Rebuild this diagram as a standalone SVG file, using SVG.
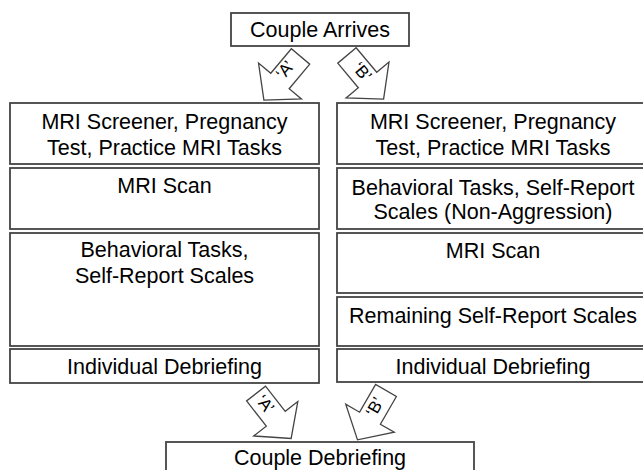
<svg xmlns="http://www.w3.org/2000/svg" width="643" height="470" viewBox="0 0 643 470">
<defs>
<style>
.box{fill:#fff;stroke:#444;stroke-width:1.8}
.t{font-family:"Liberation Sans",Arial,sans-serif;font-size:21.5px;fill:#000;text-anchor:middle}
.arr{fill:#fff;stroke:#444;stroke-width:1.3;stroke-linejoin:miter}
.at{font-family:"Liberation Sans",Arial,sans-serif;font-size:17px;fill:#000;text-anchor:middle;dominant-baseline:central}
</style>
<polygon id="blk" points="-29,-12 3,-12 3,-28 28,0 3,28 3,12 -29,12"/>
</defs>
<rect width="643" height="470" fill="#fff"/>
<g id="arrives"><rect class="box" x="231" y="13" width="178" height="33"/><text class="t" x="320" y="36.5">Couple Arrives</text></g>
<g id="l1"><rect class="box" x="10" y="103" width="309" height="61"/><text class="t" x="164.5" y="128.5">MRI Screener, Pregnancy</text><text class="t" x="164.5" y="154.5">Test, Practice MRI Tasks</text></g>
<g id="l2"><rect class="box" x="10" y="168" width="309" height="61"/><text class="t" x="164.5" y="193">MRI Scan</text></g>
<g id="l3"><rect class="box" x="10" y="233" width="309" height="113"/><text class="t" x="164.5" y="257">Behavioral Tasks,</text><text class="t" x="164.5" y="283">Self-Report Scales</text></g>
<g id="l4"><rect class="box" x="10" y="349" width="309" height="34"/><text class="t" x="164.5" y="374">Individual Debriefing</text></g>
<g id="r1"><rect class="box" x="337" y="103" width="320" height="61"/><text class="t" x="493" y="128.5">MRI Screener, Pregnancy</text><text class="t" x="493" y="154.5">Test, Practice MRI Tasks</text></g>
<g id="r2"><rect class="box" x="337" y="168" width="320" height="61"/><text class="t" x="493" y="194.5">Behavioral Tasks, Self-Report</text><text class="t" x="493" y="219">Scales (Non-Aggression)</text></g>
<g id="r3"><rect class="box" x="337" y="233" width="320" height="60"/><text class="t" x="493" y="257.5">MRI Scan</text></g>
<g id="r4"><rect class="box" x="337" y="297" width="320" height="49"/><text class="t" x="493" y="322.5">Remaining Self-Report Scales</text></g>
<g id="r5"><rect class="box" x="337" y="349" width="320" height="33"/><text class="t" x="493" y="374">Individual Debriefing</text></g>
<g id="debrief"><rect class="box" x="166" y="442" width="308" height="40"/><text class="t" x="320" y="465">Couple Debriefing</text></g>
<g id="connectors">
<use href="#blk" class="arr" transform="translate(281.9,78.7) rotate(130)"/>
<text class="at" transform="translate(285,70) rotate(-50)">‘A’</text>
<use href="#blk" class="arr" transform="translate(365.6,77.7) rotate(50)"/>
<text class="at" transform="translate(362,72) rotate(50)">‘B’</text>
<use href="#blk" class="arr" transform="translate(273.9,416.4) rotate(52)"/>
<text class="at" transform="translate(265,404) rotate(52)">‘A’</text>
<use href="#blk" class="arr" transform="translate(371.5,415.6) rotate(120)"/>
<text class="at" transform="translate(375,407) rotate(-60)">‘B’</text>
</g>
</svg>
